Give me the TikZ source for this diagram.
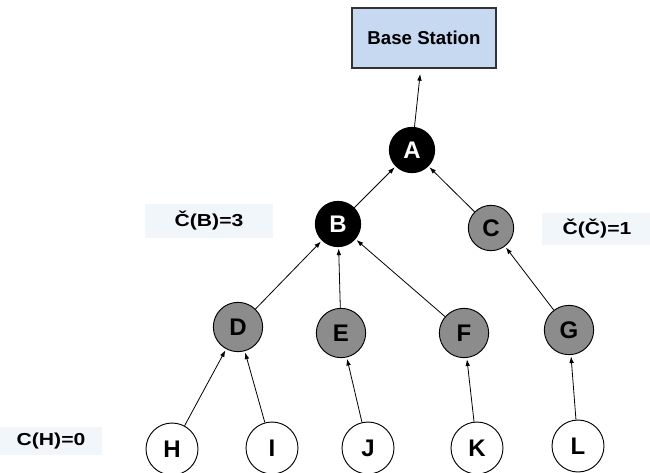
\documentclass[tikz,border=0pt]{standalone}
\usepackage{fontspec}
\setmainfont{Liberation Sans}
\usetikzlibrary{arrows.meta}
\definecolor{stationblue}{HTML}{C6D9F1}
\definecolor{nodegray}{HTML}{8C8C8C}
\definecolor{notebg}{HTML}{F1F6FB}
\tikzset{
  sensor/.style={circle, draw=black, line width=0.7pt, inner sep=0pt,
    font=\fontsize{18}{20}\selectfont\bfseries},
  upper/.style={sensor, minimum size=34pt},
  middle/.style={sensor, minimum size=37pt},
  lower/.style={sensor, minimum size=39pt},
  headnode/.style={upper, fill=black, text=white},
  relaynode/.style={fill=nodegray},
  leafnode/.style={lower, fill=white},
  station/.style={draw=black!80, line width=1pt, fill=stationblue,
    minimum width=108pt, minimum height=45pt,
    font=\fontsize{14}{16}\selectfont\bfseries},
  note/.style={fill=notebg, inner sep=0pt, font=\fontsize{13}{15}\selectfont\bfseries},
  link/.style={line width=0.6pt, -{Latex[length=5pt,width=3.5pt]}, shorten >=1pt}
}
\newcommand{\wide}[1]{\scalebox{1.22}[1]{#1}}
\begin{document}
\begin{tikzpicture}[x=0.75pt,y=-0.75pt]
\useasboundingbox (0,0) rectangle (650,472);

% label backgrounds
\node[note, minimum width=96pt, minimum height=25pt] (nb) at (209,221) {\wide{Č(B)=3}};
\node[note, minimum width=82pt, minimum height=24pt] (nc) at (597,229) {\wide{Č(Č)=1}};
\node[note, minimum width=77pt, minimum height=21pt] (nh) at (51,441) {\wide{C(H)=0}};

% base station
\node[station] (bs) at (424,38) {Base Station};

% cluster heads
\node[headnode] (A) at (412,150) {A};
\node[headnode] (B) at (338,224) {B};
\node[upper, relaynode] (C) at (491,228) {C};

% middle level
\node[middle, relaynode] (D) at (238,327) {D};
\node[middle, relaynode] (E) at (341,333) {E};
\node[middle, relaynode] (F) at (464,333) {F};
\node[middle, relaynode] (G) at (569,330) {G};

% leaves
\node[leafnode] (H) at (172,449) {H};
\node[leafnode] (I) at (272,448) {I};
\node[leafnode] (J) at (368,448) {J};
\node[leafnode] (K) at (477,448) {K};
\node[leafnode] (L) at (578,446) {L};

% links toward the base station
\draw[link, shorten >=4pt] (A) -- (bs);
\draw[link] (B) -- (A);
\draw[link] (C) -- (A);
\draw[link] (D) -- (B);
\draw[link] (E) -- (B);
\draw[link] (F) -- (B);
\draw[link] (G) -- (C);
\draw[link] (H) -- (D);
\draw[link] (I) -- (D);
\draw[link] (J) -- (E);
\draw[link] (K) -- (F);
\draw[link] (L) -- (G);
\end{tikzpicture}
\end{document}
